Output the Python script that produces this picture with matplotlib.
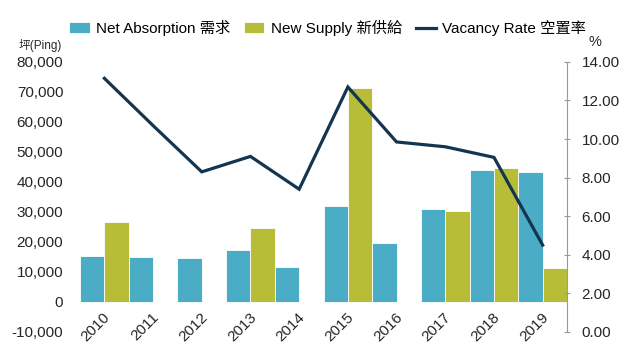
import matplotlib
matplotlib.use("Agg")
import matplotlib.pyplot as plt
import matplotlib.transforms as mtransforms
from matplotlib.ticker import FuncFormatter
import numpy as np

plt.rcParams["font.family"] = ["Liberation Sans", "Noto Sans CJK TC", "DejaVu Sans"]

years = ["2010", "2011", "2012", "2013", "2014", "2015", "2016", "2017", "2018", "2019"]
net_absorption = [15300, 15100, 14800, 17300, 11600, 32000, 19800, 31000, 44000, 43400]
new_supply = [26800, 0, 0, 24800, 0, 71400, 0, 30300, 44800, 11200]
vacancy_rate = [13.15, 10.7, 8.3, 9.1, 7.4, 12.7, 9.85, 9.6, 9.05, 4.5]

left_ticks = [-10000, 0, 10000, 20000, 30000, 40000, 50000, 60000, 70000, 80000]
right_ticks = [0, 2, 4, 6, 8, 10, 12, 14]

BLUE = "#4BACC6"
GREEN = "#B7BD36"
NAVY = "#143550"
TEXT = "#262626"

fig = plt.figure(figsize=(6.4, 3.6), dpi=100)
ax = fig.add_axes([0.125, 0.078, 0.761, 0.750])
ax2 = ax.twinx()

x = np.arange(len(years))
w = 0.5
b1 = ax.bar(x - w / 2, net_absorption, w, color=BLUE, edgecolor="white", linewidth=0.6,
            label="Net Absorption 需求")
b2 = ax.bar(x + w / 2, new_supply, w, color=GREEN, edgecolor="white", linewidth=0.6,
            label="New Supply 新供給")
ln, = ax2.plot(x, vacancy_rate, color=NAVY, lw=2.3, label="Vacancy Rate 空置率",
               solid_joinstyle="miter")

ax.set_xlim(-0.5, len(years) - 0.5)
ax.set_ylim(-10000, 80000)
ax.set_yticks(left_ticks)
ax.yaxis.set_major_formatter(FuncFormatter(lambda v, p: f"{v:,.0f}"))
ax.tick_params(axis="y", length=0, pad=12, labelsize=11, labelcolor=TEXT)

ax2.set_ylim(0, 14)
ax2.set_yticks(right_ticks)
ax2.yaxis.set_major_formatter(FuncFormatter(lambda v, p: f"{v:.2f}"))
ax2.tick_params(axis="y", direction="inout", length=5, width=0.8, color="#999999",
                pad=8, labelsize=11, labelcolor=TEXT)

for a in (ax, ax2):
    for side in ("top", "left", "bottom"):
        a.spines[side].set_visible(False)
ax.spines["right"].set_visible(False)
ax2.spines["right"].set_color("#999999")
ax2.spines["right"].set_linewidth(0.8)

# category labels hang just under the zero line, as in the source chart
ax.spines["bottom"].set_position(("data", 0))
ax.set_xticks(x)
ax.set_xticklabels(years, rotation=45, ha="right", va="top", rotation_mode="anchor",
                   fontsize=11, color=TEXT)
ax.tick_params(axis="x", length=0, pad=6)
shift = mtransforms.ScaledTranslation(-1 / 72, 0, fig.dpi_scale_trans)
for lab in ax.get_xticklabels():
    lab.set_transform(lab.get_transform() + shift)

fig.text(0.063, 0.875, "坪(Ping)", fontsize=8.5, color=TEXT, ha="center", va="center")
fig.text(0.930, 0.882, "%", fontsize=10.5, color=TEXT, ha="center", va="center")

fig.legend(handles=[b1, b2, ln], loc="center", bbox_to_anchor=(0.512, 0.922), ncol=3,
           frameon=False, fontsize=11, handlelength=1.35, handleheight=0.75,
           handletextpad=0.4, columnspacing=0.9)

fig.savefig("out.png", dpi=100)
